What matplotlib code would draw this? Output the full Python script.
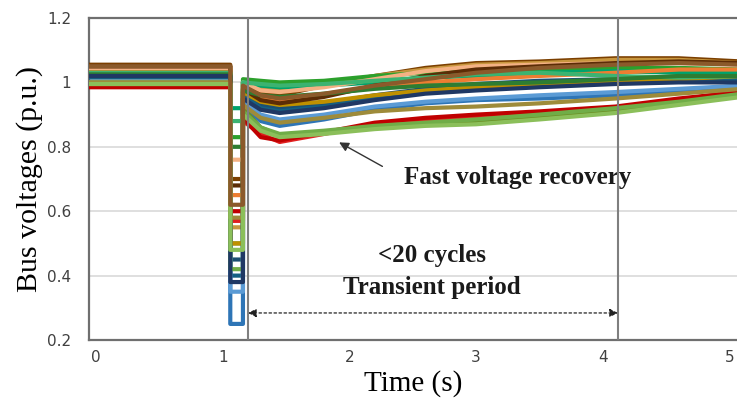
import matplotlib
matplotlib.use("Agg")
import matplotlib.pyplot as plt

# time points (s): pre-fault, fault on, fault cleared, recovery
t_pre = [-0.06, 1.06]
t_fault = [1.06, 1.16]
t_post = [1.16, 1.3, 1.45, 1.8, 2.2, 2.6, 3.0, 3.5, 4.1, 4.6, 5.1]

# bus voltages (p.u.)
colors = ['#7b3f00', '#c8963e', '#2ca02c', '#00a36c', '#1b4f72', '#156082',
          '#e02020', '#c00000', '#2e75b6', '#5b9bd5', '#6b8e23', '#70ad47',
          '#ed7d31', '#bf9000', '#f4b183', '#5c2c06', '#3cb371', '#2e7d32',
          '#1f3864', '#9e8b3a', '#8bbf5a', '#8b5a2b']
v_pre = [1.055, 1.05, 1.035, 1.03, 1.02, 1.015, 0.99, 0.985, 1.0, 1.0, 0.995,
         1.0, 1.04, 1.03, 1.045, 1.05, 1.03, 1.025, 1.02, 1.0, 0.995, 1.05]
v_fault = [0.70, 0.55, 0.83, 0.92, 0.45, 0.40, 0.57, 0.60, 0.25, 0.35, 0.50,
           0.42, 0.65, 0.50, 0.76, 0.68, 0.88, 0.80, 0.38, 0.58, 0.48, 0.62]
v_post = [
    [1.0, 0.97, 0.96, 0.99, 1.02, 1.045, 1.06, 1.065, 1.075, 1.075, 1.065],
    [1.0, 0.98, 0.975, 0.995, 1.02, 1.04, 1.055, 1.06, 1.07, 1.07, 1.06],
    [1.01, 1.005, 1.0, 1.005, 1.02, 1.03, 1.04, 1.04, 1.045, 1.045, 1.04],
    [1.0, 0.99, 0.985, 0.99, 1.0, 1.015, 1.02, 1.03, 1.035, 1.03, 1.03],
    [0.97, 0.93, 0.92, 0.935, 0.96, 0.98, 0.995, 1.005, 1.01, 1.015, 1.01],
    [0.96, 0.92, 0.91, 0.925, 0.95, 0.97, 0.985, 0.995, 1.005, 1.01, 1.005],
    [0.88, 0.84, 0.815, 0.84, 0.87, 0.885, 0.895, 0.905, 0.92, 0.945, 0.975],
    [0.89, 0.83, 0.82, 0.845, 0.875, 0.89, 0.9, 0.91, 0.925, 0.95, 0.97],
    [0.93, 0.88, 0.865, 0.885, 0.915, 0.935, 0.945, 0.95, 0.96, 0.975, 0.99],
    [0.94, 0.9, 0.885, 0.9, 0.925, 0.94, 0.95, 0.96, 0.97, 0.98, 0.99],
    [0.92, 0.86, 0.835, 0.845, 0.86, 0.87, 0.875, 0.89, 0.91, 0.935, 0.96],
    [0.91, 0.86, 0.84, 0.85, 0.865, 0.875, 0.885, 0.9, 0.92, 0.94, 0.965],
    [0.98, 0.95, 0.945, 0.96, 0.985, 1.0, 1.01, 1.02, 1.03, 1.04, 1.04],
    [0.97, 0.94, 0.93, 0.94, 0.96, 0.975, 0.985, 0.99, 1.0, 1.01, 1.02],
    [1.0, 0.975, 0.97, 0.985, 1.01, 1.035, 1.05, 1.055, 1.06, 1.06, 1.055],
    [0.98, 0.945, 0.935, 0.955, 0.99, 1.02, 1.04, 1.05, 1.06, 1.065, 1.06],
    [1.0, 0.995, 0.99, 0.995, 1.005, 1.015, 1.025, 1.03, 1.02, 1.015, 1.02],
    [0.975, 0.96, 0.955, 0.965, 0.98, 0.99, 0.995, 1.0, 1.01, 1.02, 1.02],
    [0.95, 0.915, 0.905, 0.92, 0.945, 0.965, 0.975, 0.985, 0.995, 1.0, 1.0],
    [0.93, 0.89, 0.875, 0.89, 0.91, 0.92, 0.925, 0.935, 0.95, 0.965, 0.98],
    [0.90, 0.85, 0.83, 0.84, 0.855, 0.865, 0.87, 0.885, 0.905, 0.93, 0.955],
    [0.99, 0.96, 0.95, 0.965, 0.99, 1.01, 1.03, 1.045, 1.055, 1.06, 1.055],
]

x_ticks = [0, 1, 2, 3, 4, 5]
y_ticks = [0.2, 0.4, 0.6, 0.8, 1.0, 1.2]
y_ticklabels = ['0.2', '0.4', '0.6', '0.8', '1', '1.2']
marker_times = [1.2, 4.12]

fig = plt.figure(figsize=(7.37, 4.03), dpi=100)
ax = fig.add_axes([0.1208, 0.1563, 0.8792, 0.799])

for c, vp, vf, vr in zip(colors, v_pre, v_fault, v_post):
    t = t_pre + t_fault + t_post
    v = [vp, vp] + [vf, vf] + vr
    ax.plot(t, v, color=c, lw=3.0, solid_joinstyle='round', zorder=3)

for tm in marker_times:
    ax.axvline(tm, color='#7f7f7f', lw=1.5, zorder=4)

ax.set_xlim(-0.055, 5.06)
ax.set_ylim(0.2, 1.2)
ax.set_xticks(x_ticks)
ax.set_yticks(y_ticks)
ax.set_yticklabels(y_ticklabels)
ax.grid(axis='y', color='#d9d9d9', lw=1.2, zorder=0)
ax.tick_params(length=0, labelsize=11, labelcolor='#404040')
ax.tick_params(axis='y', pad=13)
ax.tick_params(axis='x', pad=7)
for s in ['left', 'top', 'bottom']:
    ax.spines[s].set_color('#6f6f6f')
    ax.spines[s].set_linewidth(1.6)
ax.spines['right'].set_visible(False)

ax.set_xlabel('Time (s)', family='Liberation Serif', fontsize=21, labelpad=4)
ax.set_ylabel('Bus voltages (p.u.)', family='Liberation Serif', fontsize=21.5, labelpad=3)

bold = dict(family='Liberation Serif', fontweight='bold', fontsize=18, color='#1a1a1a')
ax.annotate('', xy=(1.9, 0.818), xytext=(2.28, 0.735),
            arrowprops=dict(arrowstyle='-|>', color='#333333', lw=1, mutation_scale=14))
ax.text(3.33, 0.706, 'Fast voltage recovery', ha='center', va='center', **bold)
ax.text(2.65, 0.461, '<20 cycles', ha='center', va='center', **bold)
ax.text(2.65, 0.362, 'Transient period', ha='center', va='center', **bold)
ax.annotate('', xy=(marker_times[0], 0.284), xytext=(marker_times[1], 0.284),
            arrowprops=dict(arrowstyle='<|-|>', color='#222222', lw=0.9,
                            linestyle=(0, (2, 2)), mutation_scale=12, shrinkA=0, shrinkB=0))

fig.savefig('out.png', dpi=100)
